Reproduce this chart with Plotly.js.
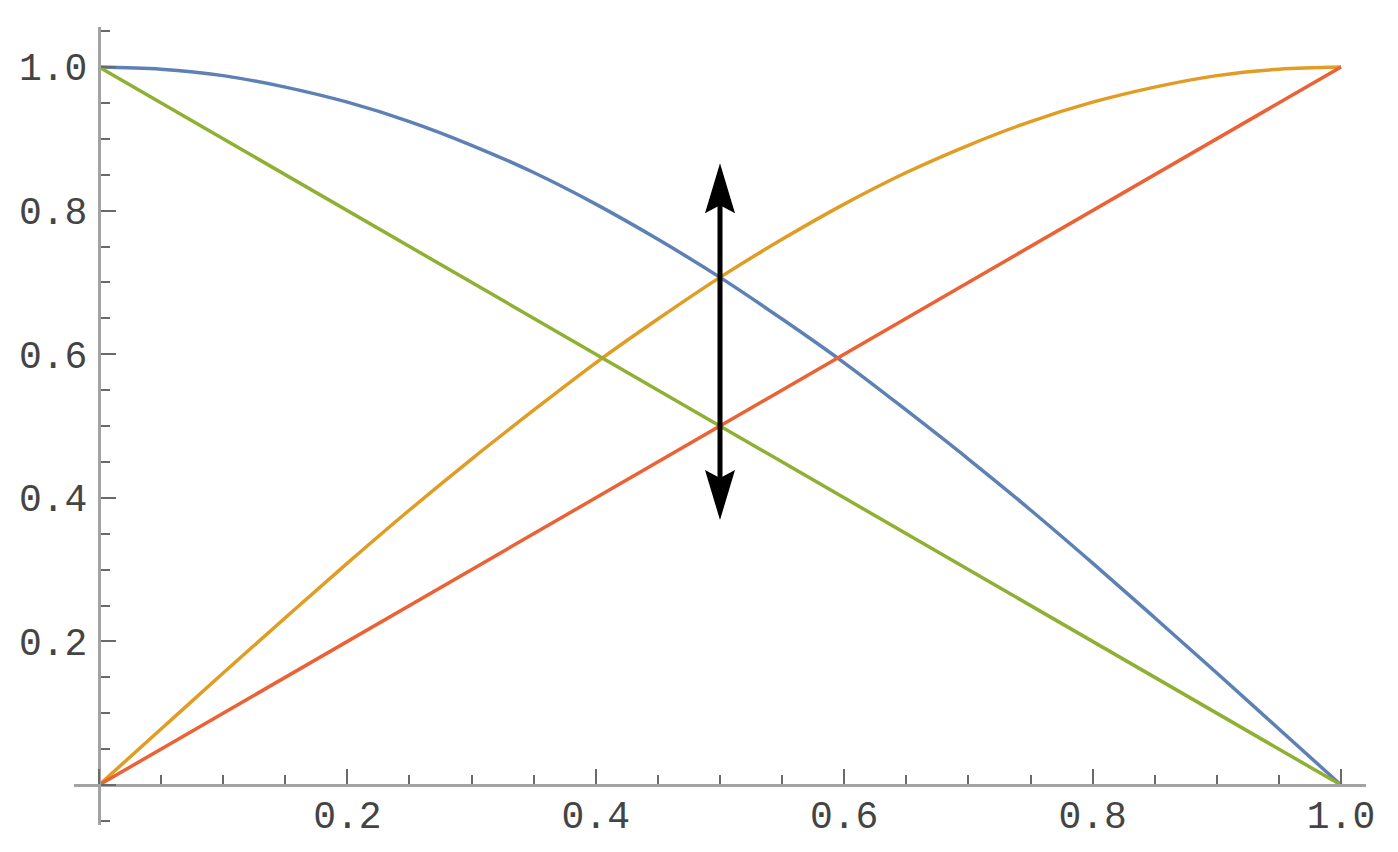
<!DOCTYPE html>
<html><head><meta charset="utf-8">
<script src="https://cdn.plot.ly/plotly-3.0.1.min.js"></script>
<style>html,body{margin:0;padding:0;background:#fff}#chart{width:1398px;height:852px}</style>
</head><body><div id="chart"></div>
<script>
// values
const xs = [0, 0.05, 0.1, 0.15, 0.2, 0.25, 0.3, 0.35, 0.4, 0.45, 0.5, 0.55, 0.6, 0.65, 0.7, 0.75, 0.8, 0.85, 0.9, 0.95, 1];
const blueVals = [1.000, 0.997, 0.988, 0.972, 0.951, 0.924, 0.891, 0.853, 0.809, 0.760, 0.707, 0.649, 0.588, 0.522, 0.454, 0.383, 0.309, 0.233, 0.156, 0.078, 0.000];
const orangeVals = [0.000, 0.078, 0.156, 0.233, 0.309, 0.383, 0.454, 0.522, 0.588, 0.649, 0.707, 0.760, 0.809, 0.853, 0.891, 0.924, 0.951, 0.972, 0.988, 0.997, 1.000];
const lineX = [0, 1];
const greenVals = [1, 0];
const redVals = [0, 1];
const arrowX = 0.5;
const arrowY = [0.369, 0.866];
const tickVals = [0, 0.2, 0.4, 0.6, 0.8, 1.0];
const tickText = ['', '0.2', '0.4', '0.6', '0.8', '1.0'];
const xRange = [-0.0201, 1.0201];
const yRange = [-0.0557, 1.0557];

const colors = {blue:'#5E81B5', orange:'#E19C24', green:'#8FB032', red:'#EB6235'};

function axis(range, pos, standoff) {
  return {
    range: range, anchor: 'free', position: pos,
    showgrid: false, zeroline: false, showline: true, linecolor: '#a3a3a3', linewidth: 3,
    ticks: 'inside', ticklen: 15, tickwidth: 2, tickcolor: '#6a6a6a',
    tickmode: 'array', tickvals: tickVals, ticktext: tickText,
    minor: {ticks: 'inside', ticklen: 9, tickwidth: 2, tickcolor: '#6a6a6a', tickmode: 'linear', tick0: 0, dtick: 0.05, showgrid: false},
    tickfont: {family: 'Liberation Mono, Courier New, monospace', size: 38, color: '#444'},
    ticklabelstandoff: standoff,
    fixedrange: true, automargin: false
  };
}

const traces = [
  {x: xs, y: blueVals, mode: 'lines', line: {color: colors.blue, width: 3.5, shape: 'spline'}},
  {x: xs, y: orangeVals, mode: 'lines', line: {color: colors.orange, width: 3.5, shape: 'spline'}},
  {x: lineX, y: greenVals, mode: 'lines', line: {color: colors.green, width: 3.5}},
  {x: lineX, y: redVals, mode: 'lines', line: {color: colors.red, width: 3.5}}
];

const layout = {
  width: 1398, height: 852,
  margin: {l: 74, r: 32, t: 27, b: 27},
  paper_bgcolor: '#fff', plot_bgcolor: '#fff',
  showlegend: false,
  xaxis: axis(xRange, (0 - yRange[0]) / (yRange[1] - yRange[0]), -5),
  yaxis: axis(yRange, (0 - xRange[0]) / (xRange[1] - xRange[0]), 3),
  shapes: [
    {type: 'path', xref: 'x', yref: 'y', xsizemode: 'pixel', ysizemode: 'pixel', xanchor: arrowX, yanchor: arrowY[1],
     path: 'M0,0 L-15,-50 L0,-42 L15,-50 Z', fillcolor: '#000', line: {width: 0}, layer: 'above'},
    {type: 'path', xref: 'x', yref: 'y', xsizemode: 'pixel', ysizemode: 'pixel', xanchor: arrowX, yanchor: arrowY[0],
     path: 'M0,0 L-15,50 L0,42 L15,50 Z', fillcolor: '#000', line: {width: 0}, layer: 'above'}
  ],
  annotations: [
    {x: arrowX, y: arrowY[1], ax: arrowX, ay: arrowY[0], xref: 'x', yref: 'y', axref: 'x', ayref: 'y',
     text: '', showarrow: true, arrowhead: 0, arrowwidth: 5, arrowcolor: '#000', standoff: 40, startstandoff: 40}
  ]
};

Plotly.newPlot('chart', traces, layout, {displayModeBar: false, staticPlot: true});
</script>
</body></html>
